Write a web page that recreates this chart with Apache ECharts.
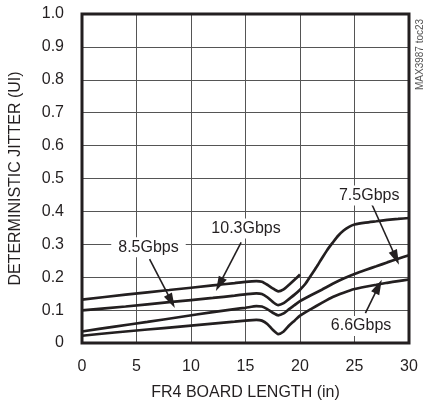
<!DOCTYPE html>
<html>
<head>
<meta charset="utf-8">
<script src="https://cdn.jsdelivr.net/npm/echarts@6/dist/echarts.min.js"></script>
<style>
  html, body { margin: 0; padding: 0; background: #fff; }
  #chart { width: 424px; height: 406px; }
</style>
</head>
<body>
<div id="chart"></div>
<script>
// Board length (in) and deterministic jitter (UI) for each data rate
const len103 = [0, 4, 8, 12, 14, 15, 16, 16.5, 17, 17.5, 18, 18.5, 19, 19.5, 20];
const dj103  = [0.132, 0.147, 0.161, 0.175, 0.182, 0.186, 0.188, 0.186, 0.177, 0.166, 0.157, 0.163, 0.177, 0.192, 0.208];

const len85 = [0, 4, 8, 12, 14, 15, 16, 16.5, 17, 17.5, 18, 18.5, 19, 19.5, 20, 20.5, 21, 21.5, 22, 22.5, 23, 23.5, 24, 24.5, 25, 26, 27, 28, 29, 30];
const dj85  = [0.099, 0.111, 0.124, 0.137, 0.144, 0.148, 0.151, 0.149, 0.139, 0.125, 0.115, 0.121, 0.134, 0.147, 0.162, 0.18, 0.205, 0.23, 0.257, 0.283, 0.305, 0.326, 0.342, 0.353, 0.36, 0.366, 0.37, 0.374, 0.377, 0.38];

const len75 = [0, 3, 6, 9, 12, 14, 15, 16, 16.5, 17, 17.5, 18, 18.5, 19, 19.5, 20, 21, 22, 23, 24, 25, 26, 27, 28, 29, 30];
const dj75  = [0.035, 0.05, 0.064, 0.079, 0.094, 0.103, 0.107, 0.112, 0.111, 0.103, 0.092, 0.084, 0.09, 0.103, 0.115, 0.127, 0.145, 0.162, 0.18, 0.196, 0.21, 0.222, 0.233, 0.245, 0.256, 0.267];

const len66 = [0, 3, 6, 9, 12, 14, 15, 16, 16.5, 17, 17.5, 18, 18.5, 19, 19.5, 20, 21, 22, 23, 24, 25, 26, 27, 28, 29, 30];
const dj66  = [0.022, 0.032, 0.041, 0.05, 0.059, 0.065, 0.068, 0.07, 0.068, 0.058, 0.04, 0.027, 0.035, 0.053, 0.068, 0.083, 0.103, 0.122, 0.14, 0.153, 0.164, 0.171, 0.177, 0.183, 0.188, 0.193];

// Callout labels: text and position (board length, jitter)
const labelText = ['10.3Gbps', '8.5Gbps', '7.5Gbps', '6.6Gbps'];
const labelPos  = [[15.05, 0.348], [6.1, 0.291], [26.35, 0.448], [25.6, 0.052]];
// Callout arrows: tail point, tip point (tip sits on the curve)
const arrowFrom = [[14.6, 0.306], [6.2, 0.255], [26.6, 0.421], [26.0, 0.091]];
const arrowTo   = [[12.6, 0.178], [8.2, 0.127], [28.8, 0.259], [27.2, 0.172]];

const FONT = '"Liberation Sans Narrow", "Arial Narrow", "Liberation Sans", sans-serif';
const INK = '#231f20';

function pairs(xs, ys) { return xs.map((x, i) => [x, ys[i]]); }

function curve(xs, ys) {
  return {
    type: 'line',
    data: pairs(xs, ys),
    showSymbol: false,
    smooth: 0.2,
    lineStyle: { color: INK, width: 2.7 },
    silent: true,
    z: 3
  };
}

const chart = echarts.init(document.getElementById('chart'), null, { renderer: 'canvas' });

chart.setOption({
  animation: false,
  backgroundColor: '#fff',
  textStyle: { fontFamily: FONT, color: INK },
  grid: {
    left: 80, right: 15, top: 14, bottom: 62,
    show: true, borderColor: INK, borderWidth: 3, backgroundColor: 'transparent', z: 10
  },
  xAxis: {
    type: 'value', min: 0, max: 30, interval: 5,
    name: 'FR4 BOARD LENGTH (in)', nameLocation: 'middle', nameGap: 42,
    nameTextStyle: { fontFamily: FONT, fontSize: 16, color: INK },
    axisLine: { show: false }, axisTick: { show: false },
    axisLabel: { fontFamily: FONT, fontSize: 16, color: INK, margin: 16 },
    splitLine: { show: true, lineStyle: { color: '#555', width: 1 } }
  },
  yAxis: {
    type: 'value', min: 0, max: 1, interval: 0.1,
    name: 'DETERMINISTIC JITTER (UI)', nameLocation: 'middle', nameGap: 58,
    nameTextStyle: { fontFamily: FONT, fontSize: 16, color: INK },
    axisLine: { show: false }, axisTick: { show: false },
    axisLabel: {
      fontFamily: FONT, fontSize: 16, color: INK, margin: 18,
      formatter: v => (Math.abs(v) < 1e-9 ? '0' : v.toFixed(1))
    },
    splitLine: { show: true, lineStyle: { color: '#555', width: 1 } }
  },
  graphic: [{
    type: 'text', x: 415, y: 90, rotation: Math.PI / 2,
    style: { text: 'MAX3987 toc23', fontFamily: FONT, fontSize: 10, fill: '#555', align: 'left', verticalAlign: 'top' }
  }],
  series: [
    curve(len103, dj103),
    curve(len85, dj85),
    curve(len75, dj75),
    curve(len66, dj66),
    {
      type: 'scatter',
      data: labelPos,
      symbolSize: 0,
      silent: true,
      z: 5,
      itemStyle: { color: INK },
      label: {
        show: true, position: 'inside',
        formatter: p => labelText[p.dataIndex],
        fontFamily: FONT, fontSize: 16, color: INK,
        textBorderWidth: 0, opacity: 1,
        backgroundColor: '#fff', padding: [2, 7]
      }
    },
    {
      type: 'line',
      data: [],
      silent: true,
      markLine: {
        silent: true,
        symbol: ['none', 'triangle'],
        symbolSize: [9, 15],
        label: { show: false },
        lineStyle: { color: INK, width: 1.6, type: 'solid' },
        data: arrowFrom.map((f, i) => [{ coord: f }, { coord: arrowTo[i] }])
      },
      z: 6
    }
  ]
});
</script>
</body>
</html>
